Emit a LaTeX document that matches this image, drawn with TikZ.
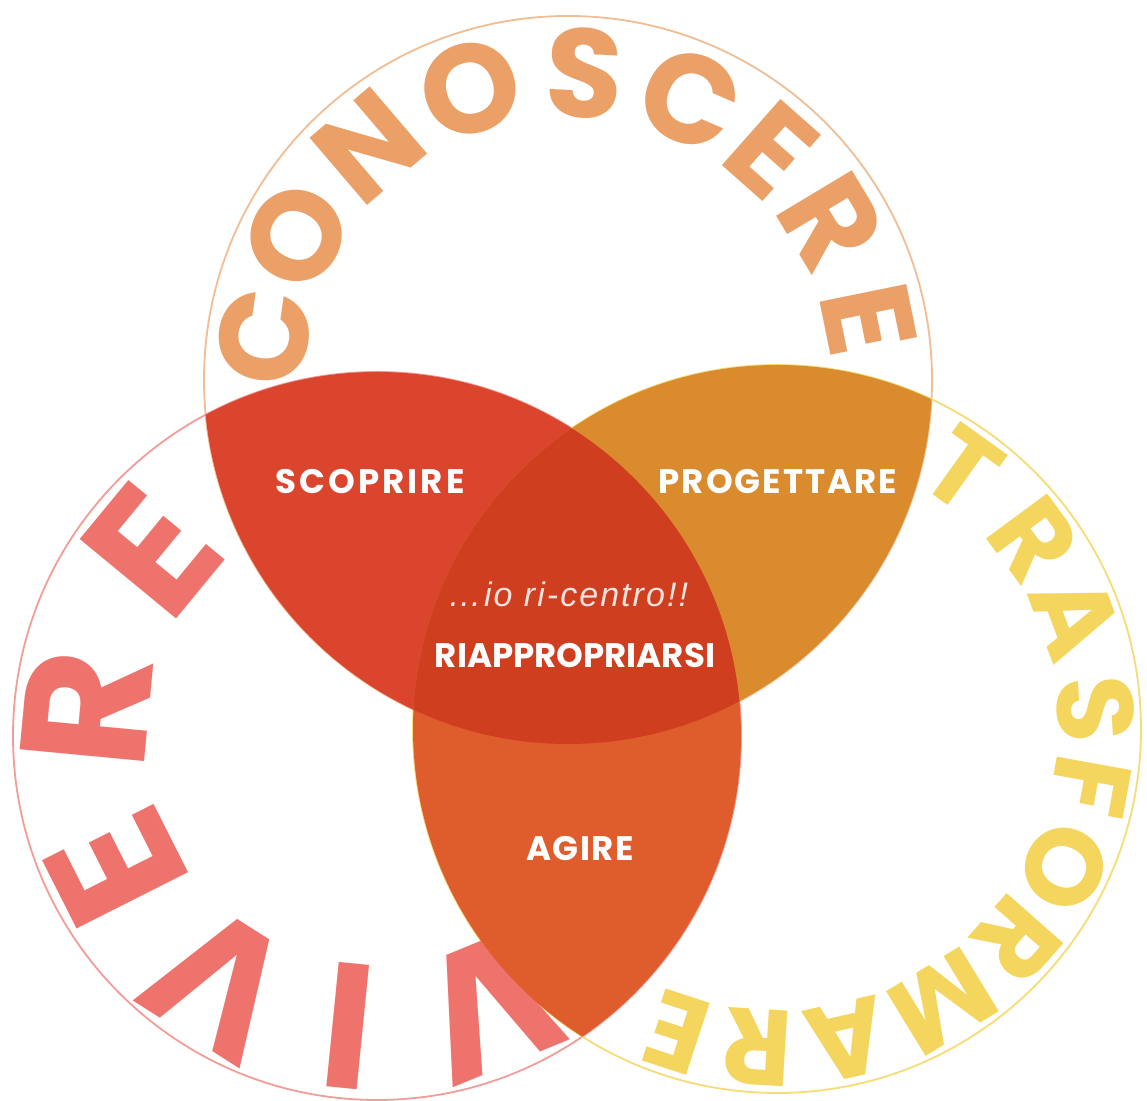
\documentclass[tikz,border=0pt]{standalone}
\usepackage{fontspec}
\setmainfont{Liberation Sans}
\newfontfamily\ringfont{Poppins}
\newfontfamily\labelfont{Poppins}
\newfontfamily\notefont{Liberation Sans}[LetterSpace=6]
\usetikzlibrary{positioning}

\definecolor{conoscereC}{HTML}{EAA066}
\definecolor{vivereC}{HTML}{EE736D}
\definecolor{trasformareC}{HTML}{F4D65E}
\definecolor{scoprireC}{HTML}{DB452D}
\definecolor{progettareC}{HTML}{DA8B2E}
\definecolor{agireC}{HTML}{DF5C2C}
\definecolor{centroC}{HTML}{CE3E1F}

\tikzstyle{ring} = [line width=0.9pt]
\tikzstyle{conletter} = [inner sep=0pt, text=conoscereC, font=\ringfont\bfseries\fontsize{63}{63}\selectfont]
\tikzstyle{vivletter} = [inner sep=0pt, text=vivereC, font=\ringfont\bfseries\fontsize{89}{89}\selectfont]
\tikzstyle{traletter} = [inner sep=0pt, text=trasformareC, font=\ringfont\bfseries\fontsize{54}{54}\selectfont]
\tikzstyle{arealabel} = [inner sep=0pt, text=white, font=\labelfont\bfseries\fontsize{17}{17}\selectfont]
\tikzstyle{notelabel} = [inner sep=0pt, text=white!85!centroC, font=\notefont\itshape\fontsize{17}{17}\selectfont]
\tikzset{tracked/.style={execute at begin node={\addfontfeatures{LetterSpace=#1}}}}

\begin{document}
\begin{tikzpicture}[x=0.5pt, y=0.5pt]
    \fill[white] (0,0) rectangle (1147,1101);
    \useasboundingbox (0,0) rectangle (1147,1101);

    % Circle centres
    \coordinate (ctop) at (568,721);
    \coordinate (cleft) at (377,365);
    \coordinate (cright) at (777,372);

    % Circles
    \draw [ring, draw=conoscereC!70!white] (ctop) circle (364);
    \draw [ring, draw=vivereC!70!white] (cleft) circle (364);
    \draw [ring, draw=trasformareC!85!white] (cright) circle (364);

    % Ring letters
    \foreach \ch/\ang [count=\i] in {C/172, O/152, N/130.5, O/108.5, S/87, C/66.5, E/48.5, R/31, E/11.5}
        \node (con\i) [conletter, rotate=\ang-90] at ([shift={(\ang:307)}]ctop) {\ch};
    \foreach \ch/\ang [count=\i] in {V/-67.7, I/-95.7, V/-122.5, E/-153.2, R/-185.4, E/-219.5}
        \node (viv\i) [vivletter, rotate=\ang-90] at ([shift={(\ang:292)}]cleft) {\ch};
    \foreach \ch/\ang [count=\i] in {T/54.4, R/36.4, A/20.6, S/3.6, F/-10.3, O/-25.6, R/-41.4, M/-58.6, A/-77.4, R/-93.5, E/-108.2}
        \node (tra\i) [traletter, rotate=\ang-90] at ([shift={(\ang:319)}]cright) {\ch};

    % Overlaps
    \begin{scope}
        \clip (ctop) circle (364);
        \fill [scoprireC] (cleft) circle (364);
        \fill [progettareC] (cright) circle (364);
    \end{scope}
    \begin{scope}
        \clip (cleft) circle (364);
        \fill [agireC] (cright) circle (364);
        \clip (ctop) circle (364);
        \fill [centroC] (cright) circle (364);
    \end{scope}

    % Labels
    \node (scoprire) [arealabel, tracked=9] at (370,619) {SCOPRIRE};
    \node (progettare) [arealabel, tracked=6] at (778,619) {PROGETTARE};
    \node (note) [notelabel] at (568,507) {\ldots io ri-centro!!};
    \node (riapp) [arealabel, below of=note, node distance=31pt, xshift=3.5pt] {RIAPPROPRIARSI};
    \node (agire) [arealabel, tracked=4] at (580,252) {AGIRE};
\end{tikzpicture}
\end{document}
